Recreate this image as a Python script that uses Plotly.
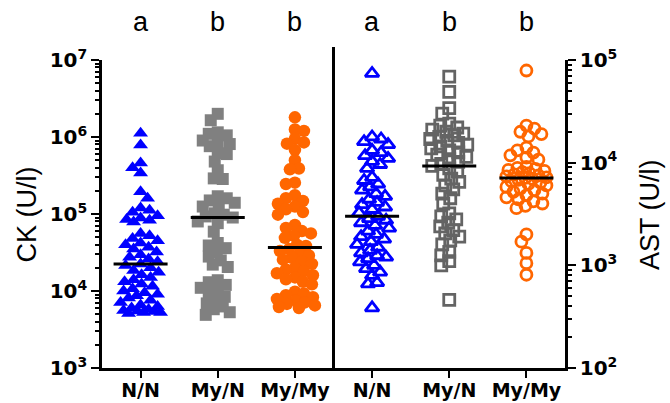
import numpy as np
import plotly.graph_objects as go

# ---------------- data ----------------
categories = ["N/N", "My/N", "My/My", "N/N", "My/N", "My/My"]
letters = ["a", "b", "b", "a", "b", "b"]

# CK (U/l), left axis
ck_nn = [1.12e6, 7.9e5, 4.6e5, 4.0e5, 3.4e5, 1.95e5, 1.6e5,
         1.2e5, 1.12e5, 1.05e5, 9.5e4, 8.9e4, 8.5e4, 8.3e4, 7.9e4,
         5.6e4, 5.2e4, 4.8e4, 4.5e4, 4.2e4, 4.0e4, 3.7e4, 3.5e4, 3.2e4, 2.95e4, 2.75e4, 2.6e4,
         2.4e4, 2.25e4, 2.15e4, 2.0e4,
         1.85e4, 1.75e4, 1.62e4, 1.5e4, 1.4e4, 1.32e4, 1.23e4, 1.15e4, 1.07e4, 1.0e4, 9.5e3, 9.1e3,
         8.7e3, 8.1e3, 7.6e3, 7.1e3, 6.6e3, 6.3e3, 6.0e3, 5.75e3, 5.6e3, 5.5e3, 5.4e3, 5.25e3, 5.25e3, 5.1e3]
ck_myn = [2.0e6, 1.65e6, 1.15e6, 1.1e6, 1.05e6, 9.0e5, 8.3e5, 8.1e5, 7.6e5, 6.2e5, 6.0e5, 4.8e5, 3.7e5, 2.9e5, 2.85e5,
          1.7e5, 1.6e5, 1.5e5, 1.4e5, 1.3e5, 1.25e5,
          1.02e5, 9.8e4, 9.3e4, 9.0e4, 8.0e4, 7.6e4,
          5.9e4,
          4.2e4, 3.9e4, 3.6e4, 3.2e4, 2.8e4, 2.5e4, 2.2e4, 2.05e4,
          1.38e4, 1.3e4, 1.2e4, 1.1e4, 1.0e4, 9.2e3, 8.4e3, 7.6e3,
          6.9e3, 6.3e3, 5.8e3, 5.3e3, 4.9e3]
ck_mymy = [1.8e6, 1.25e6, 1.2e6, 9.5e5, 8.5e5, 8.2e5, 6.8e5, 5.0e5, 3.9e5, 3.8e5, 2.55e5, 2.45e5,
           1.75e5, 1.6e5, 1.48e5, 1.36e5, 1.25e5, 1.15e5, 1.06e5, 9.8e4,
           7.2e4, 6.6e4, 6.0e4, 5.6e4, 5.2e4, 4.9e4,
           4.0e4, 3.85e4, 3.5e4, 3.3e4, 3.1e4, 2.9e4, 2.7e4, 2.55e4, 2.4e4, 2.25e4,
           2.0e4, 1.9e4, 1.8e4, 1.7e4, 1.6e4, 1.5e4, 1.42e4, 1.32e4, 1.22e4,
           9.8e3, 9.3e3, 8.8e3, 8.3e3, 7.9e3, 7.5e3, 7.1e3, 6.8e3, 6.5e3, 6.2e3, 6.0e3]

# AST (U/l), right axis
ast_nn = [7.4e4,
          1.78e4, 1.7e4, 1.6e4, 1.5e4,
          1.32e4, 1.25e4, 1.17e4, 1.1e4, 1.03e4, 9.6e3, 8.8e3,
          7.2e3, 6.7e3, 6.2e3, 5.8e3, 5.4e3, 5.0e3, 4.7e3, 4.4e3,
          4.1e3, 3.9e3, 3.7e3, 3.5e3, 3.25e3, 3.0e3,
          2.85e3, 2.75e3, 2.6e3, 2.45e3, 2.3e3, 2.15e3, 2.0e3, 1.9e3, 1.8e3, 1.7e3, 1.6e3, 1.5e3,
          1.4e3, 1.32e3, 1.24e3, 1.2e3, 1.16e3, 1.08e3, 1.0e3, 930, 860, 800,
          680, 660,
          385]
ast_myn = [6.9e4, 4.9e4, 3.4e4, 3.0e4,
           2.4e4, 2.3e4, 2.2e4, 2.1e4, 2.0e4, 1.92e4, 1.85e4, 1.78e4, 1.7e4, 1.63e4, 1.56e4,
           1.5e4, 1.44e4, 1.38e4, 1.32e4, 1.26e4, 1.2e4, 1.14e4, 1.08e4, 1.02e4, 9.7e3,
           9.3e3,
           8.8e3, 8.2e3, 7.6e3, 7.0e3, 6.5e3, 6.0e3, 5.5e3, 5.0e3, 4.5e3, 4.0e3,
           3.2e3, 3.0e3, 2.8e3, 2.6e3, 2.4e3, 2.2e3, 2.05e3, 1.9e3, 1.75e3, 1.6e3, 1.35e3, 1.25e3, 1.1e3, 1.0e3,
           460]
ast_mymy = [7.9e4,
            2.3e4, 2.15e4, 2.0e4, 1.9e4, 1.8e4,
            1.4e4, 1.32e4, 1.25e4, 1.18e4, 1.12e4, 1.07e4,
            9.1e3, 8.9e3, 8.7e3, 8.5e3, 8.3e3, 8.1e3, 7.9e3, 7.7e3, 7.5e3, 7.35e3, 7.2e3,
            7.1e3,
            6.95e3, 6.8e3, 6.6e3, 6.4e3, 6.2e3, 6.0e3, 5.8e3, 5.6e3, 5.4e3, 5.2e3, 5.0e3, 4.8e3,
            4.6e3, 4.4e3, 4.2e3, 4.0e3, 3.8e3, 3.6e3,
            2.0e3, 1.7e3, 1.32e3, 1.05e3, 810]

groups = [ck_nn, ck_myn, ck_mymy, ast_nn, ast_myn, ast_mymy]

# ---------------- styling ----------------
BLUE = "#0000FF"
GRAY = "#808080"
DGRAY = "#646464"
ORANGE = "#FF6600"
styles = [
    dict(symbol="triangle-up", size=13, color=BLUE, yaxis="y"),
    dict(symbol="square", size=12, color=GRAY, yaxis="y"),
    dict(symbol="circle", size=12.5, color=ORANGE, yaxis="y"),
    dict(symbol="triangle-up-open", size=12, color=BLUE, yaxis="y2"),
    dict(symbol="square-open", size=11, color=DGRAY, yaxis="y2"),
    dict(symbol="circle-open", size=11, color=ORANGE, yaxis="y2"),
]

PX_CAT = 463 / 6.0          # pixels per category
PX_DEC_L = 308 / 4.0        # pixels per decade, left axis
PX_DEC_R = 308 / 3.0        # pixels per decade, right axis


def swarm(vals, ppd, sep=8.0, half=20.0):
    ys = np.log10(np.asarray(vals, dtype=float)) * ppd
    order = np.argsort(-ys, kind="stable")
    cands = sorted(np.arange(-half, half + 0.01, 1.0), key=lambda c: (abs(c), -c))
    placed = []
    xs = np.zeros(len(ys))
    for k, i in enumerate(order):
        best = None
        bestc, bestd = 0.0, -1.0
        cl = cands if k % 2 == 0 else sorted(cands, key=lambda c: (abs(c), c))
        for c in cl:
            dmin = min((np.hypot(c - px, ys[i] - py) for px, py in placed), default=1e9)
            if dmin >= sep:
                best = c
                break
            if dmin > bestd:
                bestd, bestc = dmin, c
        if best is None:
            best = bestc
        xs[i] = best
        placed.append((best, ys[i]))
    return xs / PX_CAT


fig = go.Figure()
for i, (vals, st) in enumerate(zip(groups, styles)):
    ppd = PX_DEC_L if st["yaxis"] == "y" else PX_DEC_R
    off = swarm(vals, ppd, sep=9.0 if i < 3 else 8.5, half=20.0)
    marker = dict(symbol=st["symbol"], size=st["size"], color=st["color"])
    if "open" in st["symbol"]:
        marker["line"] = dict(width=2.8, color=st["color"])
    else:
        marker["line"] = dict(width=0)
    fig.add_trace(go.Scatter(x=i + off, y=vals, mode="markers", marker=marker,
                             yaxis=st["yaxis"], showlegend=False, hoverinfo="skip"))

# medians
for i, (vals, st) in enumerate(zip(groups, styles)):
    m = float(np.median(vals))
    fig.add_trace(go.Scatter(x=[i - 0.35, i + 0.35], y=[m, m], mode="lines",
                             line=dict(color="black", width=3), yaxis=st["yaxis"],
                             showlegend=False, hoverinfo="skip"))

TICKFONT = dict(family="DejaVu Sans", size=20, color="black")
XFONT = dict(family="DejaVu Sans", size=19, color="black")


def minor_vals(lo, hi):
    return [k * 10 ** e for e in range(lo, hi) for k in range(2, 10)]


fig.update_layout(
    width=670, height=403,
    margin=dict(l=102, r=105, t=60, b=35, autoexpand=False),
    paper_bgcolor="white", plot_bgcolor="white",
    xaxis=dict(range=[-0.5, 5.5], tickvals=list(range(6)),
               ticktext=["<b>%s</b>" % c for c in categories],
               tickfont=XFONT, ticks="outside", ticklen=7, tickwidth=2, tickcolor="black",
               ticklabelstandoff=-4, automargin=False,
               showline=True, linewidth=2.5, linecolor="black", showgrid=False,
               zeroline=False, fixedrange=True),
    yaxis=dict(type="log", range=[3, 7], automargin=False,
               tickvals=[1e3, 1e4, 1e5, 1e6, 1e7],
               ticktext=["<b>10<sup>%d</sup></b>" % e for e in range(3, 8)],
               tickfont=TICKFONT, ticks="outside", ticklen=8, tickwidth=2, tickcolor="black",
               minor=dict(tickvals=minor_vals(3, 7), ticks="outside", ticklen=4,
                          tickwidth=1.5, tickcolor="black", showgrid=False),
               showline=True, linewidth=2.5, linecolor="black", showgrid=False,
               zeroline=False),
    yaxis2=dict(type="log", range=[2, 5], overlaying="y", side="right", automargin=False,
                tickvals=[1e2, 1e3, 1e4, 1e5],
                ticktext=["<b>10<sup>%d</sup></b>" % e for e in range(2, 6)],
                tickfont=TICKFONT, ticks="outside", ticklen=8, tickwidth=2, tickcolor="black",
                minor=dict(tickvals=minor_vals(2, 5), ticks="outside", ticklen=4,
                           tickwidth=1.5, tickcolor="black", showgrid=False),
                showline=True, linewidth=2.5, linecolor="black", showgrid=False,
                zeroline=False),
)

# divider
fig.add_shape(type="line", xref="x", yref="paper", x0=2.5, x1=2.5, y0=0, y1=1.042,
              line=dict(color="black", width=3))

# significance letters
for i, t in enumerate(letters):
    fig.add_annotation(x=i, y=1.125, xref="x", yref="paper", text=t, showarrow=False,
                       font=dict(family="Liberation Sans", size=27, color="black"),
                       xanchor="center", yanchor="middle")

# axis titles
fig.add_annotation(x=-0.163, y=0.497, xref="paper", yref="paper", text="CK (U/l)",
                   textangle=-90, showarrow=False,
                   font=dict(family="Liberation Sans", size=27, color="black"),
                   xanchor="center", yanchor="middle")
fig.add_annotation(x=1.184, y=0.497, xref="paper", yref="paper", text="AST (U/l)",
                   textangle=-90, showarrow=False,
                   font=dict(family="Liberation Sans", size=27, color="black"),
                   xanchor="center", yanchor="middle")

fig.write_html("out.html", config=dict(displayModeBar=False),
               post_script="document.body.style.margin='0';document.body.style.padding='0';")
